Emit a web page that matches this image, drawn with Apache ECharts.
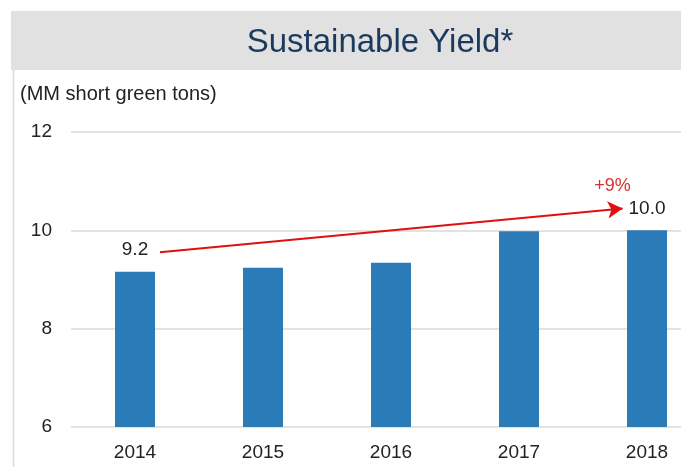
<!DOCTYPE html>
<html>
<head>
<meta charset="utf-8">
<script src="https://cdn.jsdelivr.net/npm/echarts@6/dist/echarts.min.js"></script>
<style>html,body{margin:0;padding:0;background:#fff}#c{width:681px;height:467px}</style>
</head>
<body>
<div id="c"></div>
<script>
var categories = ['2014', '2015', '2016', '2017', '2018'];
var values = [9.16, 9.24, 9.34, 9.98, 10.0];
var labeledIdx = [0, 4];
var yTicks = [6, 8, 10, 12];
var arrowStart = [0.195, 9.555];
var arrowEnd = [3.81, 10.445];
var growthText = '+9%';
var growthPos = [3.73, 10.9];
var titleText = 'Sustainable Yield*';
var unitText = '(MM short green tons)';

var font = 'Liberation Sans, Arial, Helvetica, sans-serif';
var chart = echarts.init(document.getElementById('c'), null, {renderer: 'canvas'});
chart.setOption({
  animation: false,
  backgroundColor: '#ffffff',
  title: {
    text: titleText,
    left: 375, top: 21, textAlign: 'center',
    textStyle: {fontFamily: font, fontSize: 33, fontWeight: 'normal', color: '#1c3a5e'}
  },
  graphic: [
    {type: 'rect', z: -10, shape: {x: 11, y: 11, width: 670, height: 59}, style: {fill: '#e1e1e1'}},
    {type: 'line', z: -10, shape: {x1: 13.5, y1: 70, x2: 13.5, y2: 467}, style: {stroke: '#dcdcdc', lineWidth: 1.5}},
    {type: 'text', left: 20, top: 84, style: {text: unitText, font: '20px ' + font, fill: '#222'}}
  ],
  grid: {left: 71, top: 132, height: 295, width: 640, containLabel: false, outerBoundsMode: 'none'},
  xAxis: [{
    type: 'category', data: categories,
    axisLine: {show: false}, axisTick: {show: false},
    axisLabel: {fontFamily: font, fontSize: 19, color: '#222', margin: 16}
  }, {
    type: 'value', min: -0.5, max: 4.5, show: false
  }],
  yAxis: {
    type: 'value', min: yTicks[0], max: yTicks[yTicks.length - 1], interval: 2,
    axisLine: {show: false}, axisTick: {show: false},
    axisLabel: {fontFamily: font, fontSize: 19, color: '#222', margin: 19},
    splitLine: {lineStyle: {color: '#d9d9d9', width: 1.5}}
  },
  series: [{
    type: 'bar', data: values, barWidth: 40, xAxisIndex: 0,
    itemStyle: {color: '#2b7bb9'},
    label: {
      show: true, position: 'top', distance: 12,
      fontFamily: font, fontSize: 19, color: '#222',
      formatter: function (p) { return labeledIdx.indexOf(p.dataIndex) >= 0 ? p.value.toFixed(1) : ''; }
    }
  }, {
    type: 'scatter', xAxisIndex: 1, data: [], symbolSize: 0,
    markLine: {
      silent: true, symbol: ['none', 'arrow'], symbolSize: [13, 15],
      lineStyle: {color: '#e01010', width: 2, type: 'solid'},
      label: {show: false},
      data: [[{coord: arrowStart}, {coord: arrowEnd}]]
    },
    markPoint: {
      silent: true, symbol: 'circle', symbolSize: 0,
      label: {show: true, formatter: growthText, fontFamily: font, fontSize: 18, color: '#d83030'},
      data: [{coord: growthPos}]
    }
  }]
});
</script>
</body>
</html>
